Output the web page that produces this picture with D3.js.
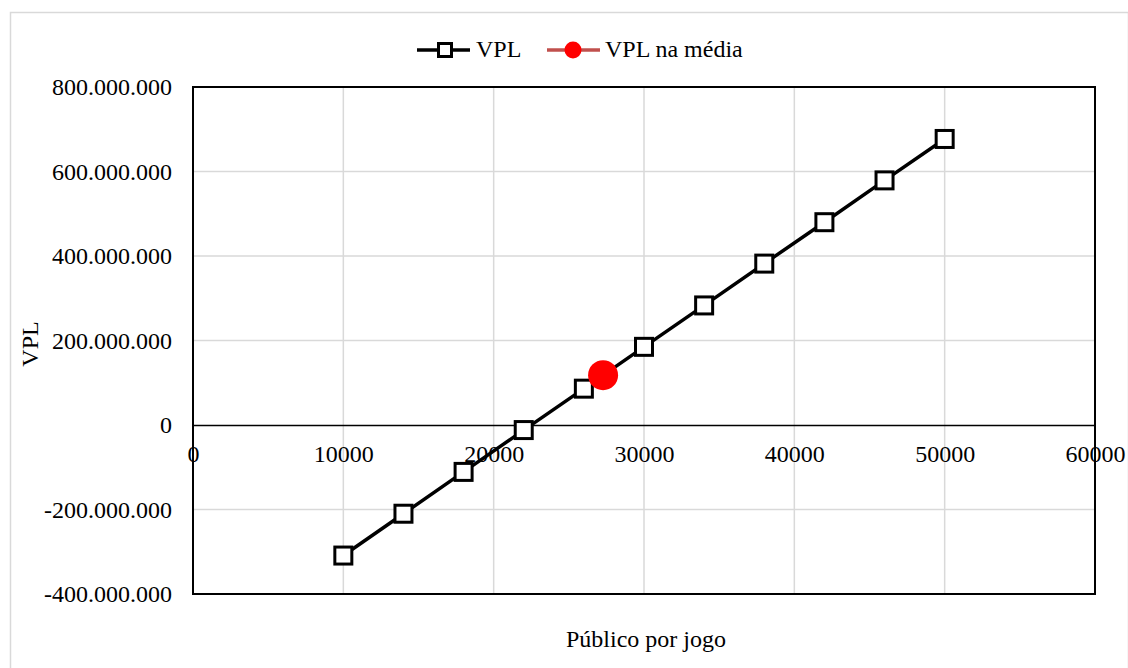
<!DOCTYPE html>
<html>
<head>
<meta charset="utf-8">
<script src="https://cdn.jsdelivr.net/npm/d3@7"></script>
<style>
  html, body { margin: 0; padding: 0; background: #fff; }
  svg { display: block; }
  svg text { font-family: 'Liberation Serif', 'Times New Roman', 'DejaVu Serif', serif; }
</style>
</head>
<body>
<svg id="chart" width="1128" height="668"></svg>
<script>
// Público por jogo (x) and VPL (y)
const publico = [10000, 14000, 18000, 22000, 26000, 30000, 34000, 38000, 42000, 46000, 50000];
const vpl = [-309e6, -210e6, -111e6, -12e6, 86e6, 185e6, 283e6, 382e6, 480e6, 579e6, 677e6];
// VPL at the average attendance
const mediaPublico = [27278];
const mediaVpl = [118e6];

const xTicks = [0, 10000, 20000, 30000, 40000, 50000, 60000];
const yTicks = [-400e6, -200e6, 0, 200e6, 400e6, 600e6, 800e6];
const seriesNames = ["VPL", "VPL na média"];

const svg = d3.select("#chart");
const W = 1128, H = 668;
const plot = { left: 193, right: 1095, top: 87, bottom: 594 };
const FS = 24;

// outer chart frame
svg.append("rect").attr("x", 10.5).attr("y", 12.5).attr("width", W - 10).attr("height", H)
  .attr("fill", "#fff").attr("stroke", "#d9d9d9").attr("stroke-width", 1.5);

const x = d3.scaleLinear().domain([0, 60000]).range([plot.left, plot.right]);
const y = d3.scaleLinear().domain([-400e6, 800e6]).range([plot.bottom, plot.top]);

const fmt = v => {
  if (v === 0) return "0";
  const s = d3.format(",")(Math.abs(v)).replace(/,/g, ".");
  return (v < 0 ? "-" : "") + s;
};

// gridlines
const grid = svg.append("g");
grid.selectAll(".vg").data(xTicks.slice(1, -1)).join("line")
  .attr("x1", d => x(d)).attr("x2", d => x(d))
  .attr("y1", plot.top).attr("y2", plot.bottom)
  .attr("stroke", "#d9d9d9").attr("stroke-width", 1.5);
grid.selectAll(".hg").data(yTicks.filter(d => d !== 0)).join("line")
  .attr("x1", plot.left).attr("x2", plot.right)
  .attr("y1", d => y(d)).attr("y2", d => y(d))
  .attr("stroke", "#d9d9d9").attr("stroke-width", 1.5);

// plot frame
svg.append("rect").attr("x", plot.left).attr("y", plot.top)
  .attr("width", plot.right - plot.left).attr("height", plot.bottom - plot.top)
  .attr("fill", "none").attr("stroke", "#000").attr("stroke-width", 2);

// y axis labels
const yAxis = d3.axisLeft(y).tickValues(yTicks).tickFormat(fmt).tickSize(0).tickPadding(21);
svg.append("g").attr("transform", `translate(${plot.left},0)`).call(yAxis)
  .attr("font-family", null).attr("font-size", null)
  .call(g => g.select(".domain").remove())
  .call(g => g.selectAll("text").attr("font-size", FS).attr("fill", "#000"));

// x axis along zero
const xAxis = d3.axisBottom(x).tickValues(xTicks).tickFormat(d => String(d)).tickSize(0).tickPadding(20);
svg.append("g").attr("transform", `translate(0,${y(0)})`).call(xAxis)
  .attr("font-family", null).attr("font-size", null)
  .call(g => g.select(".domain").attr("stroke", "#000").attr("stroke-width", 1.5))
  .call(g => g.selectAll("text").attr("font-size", FS).attr("fill", "#000"));

// axis titles
svg.append("text").attr("x", 646).attr("y", 647).attr("text-anchor", "middle")
  .attr("font-size", FS).text("Público por jogo");
svg.append("text").attr("transform", `translate(38,344) rotate(-90)`)
  .attr("text-anchor", "middle").attr("font-size", FS).text("VPL");

// VPL line and markers
const pts = publico.map((p, i) => ({ p, v: vpl[i] }));
const line = d3.line().x(d => x(d.p)).y(d => y(d.v));
svg.append("path").datum(pts).attr("d", line)
  .attr("fill", "none").attr("stroke", "#000").attr("stroke-width", 3.5);
const sq = 17;
svg.selectAll(".sq").data(pts).join("rect")
  .attr("x", d => x(d.p) - sq / 2).attr("y", d => y(d.v) - sq / 2)
  .attr("width", sq).attr("height", sq)
  .attr("fill", "#fff").attr("stroke", "#000").attr("stroke-width", 3);

// average point
svg.selectAll(".avg").data(mediaPublico.map((p, i) => ({ p, v: mediaVpl[i] }))).join("circle")
  .attr("cx", d => x(d.p)).attr("cy", d => y(d.v)).attr("r", 15)
  .attr("fill", "#ff0000");

// legend
const leg = svg.append("g");
const ly = 50;
leg.append("line").attr("x1", 417).attr("x2", 470).attr("y1", ly).attr("y2", ly)
  .attr("stroke", "#000").attr("stroke-width", 3.5);
leg.append("rect").attr("x", 445 - 6.5).attr("y", ly - 6.5).attr("width", 13).attr("height", 13)
  .attr("fill", "#fff").attr("stroke", "#000").attr("stroke-width", 3);
leg.append("text").attr("x", 476).attr("y", 57).attr("font-size", FS).text(seriesNames[0]);
leg.append("line").attr("x1", 547).attr("x2", 600).attr("y1", ly).attr("y2", ly)
  .attr("stroke", "#c0504d").attr("stroke-width", 3.5);
leg.append("circle").attr("cx", 573).attr("cy", ly).attr("r", 8.5).attr("fill", "#ff0000");
leg.append("text").attr("x", 605).attr("y", 57).attr("font-size", FS).text(seriesNames[1]);
</script>
</body>
</html>
